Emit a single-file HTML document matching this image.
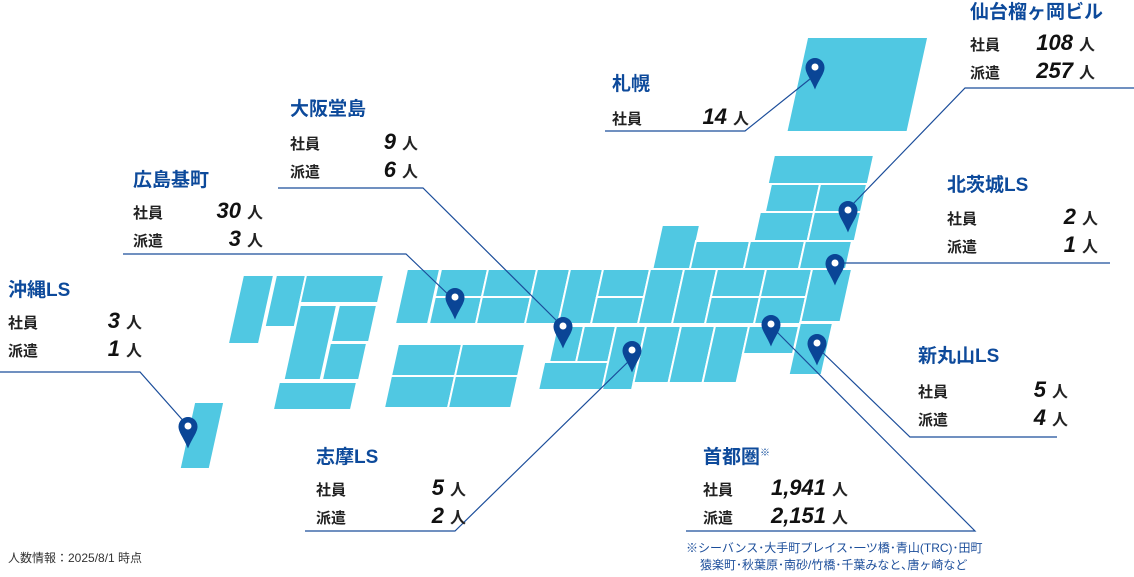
<!DOCTYPE html>
<html><head><meta charset="utf-8"><style>
html,body{margin:0;padding:0;background:#fff}
#c{position:relative;width:1134px;height:577px;overflow:hidden;font-family:"Liberation Sans","Noto Sans CJK JP",sans-serif}
.t{position:absolute;color:#0d4a9b;font-weight:bold;font-size:19px;line-height:20px;white-space:nowrap}
.r{position:absolute;font-size:15px;line-height:18px;font-weight:bold;color:#222;white-space:nowrap}
.r .n{display:inline-block;text-align:right;font-style:italic;font-size:22px;font-weight:bold;color:#111}
.r .p{font-size:16px;margin-left:6px}
svg{position:absolute;left:0;top:0}
.note{position:absolute;font-size:12px;line-height:18px;color:#1b4d9a;white-space:nowrap}
</style></head><body><div id="c">
<svg width="1134" height="577">
<g transform="skewX(-12.4)" fill="#50c8e2" stroke="#fff" stroke-width="2">
<!-- Hokkaido -->
<rect x="816.4" y="38" width="119" height="93" stroke="none"/>
<!-- Kyushu -->
<rect x="303.5" y="275" width="31" height="69"/>
<rect x="336.5" y="275" width="30" height="52"/>
<rect x="366.5" y="275" width="78" height="28"/>
<rect x="367.1" y="305" width="37" height="75"/>
<rect x="406.1" y="305" width="38" height="37"/>
<rect x="405.5" y="343" width="37" height="37"/>
<rect x="363" y="382" width="78" height="28"/>
<!-- Shikoku -->
<rect x="473.7" y="344" width="64" height="32"/>
<rect x="537.7" y="344" width="63" height="32"/>
<rect x="473.7" y="376" width="64" height="32"/>
<rect x="537.7" y="376" width="63" height="32"/>
<!-- Honshu band -->
<rect x="466.2" y="269" width="33" height="55"/>
<rect x="500.2" y="269" width="47" height="28"/>
<rect x="500.2" y="297" width="47" height="27"/>
<rect x="547.2" y="269" width="49" height="28"/>
<rect x="547.2" y="297" width="49" height="27"/>
<rect x="596.2" y="269" width="33" height="55"/>
<rect x="629.2" y="269" width="33" height="55"/>
<rect x="662.2" y="269" width="47" height="28"/>
<rect x="662.2" y="297" width="47" height="27"/>
<rect x="709.2" y="269" width="34" height="55"/>
<rect x="743.2" y="269" width="33" height="55"/>
<rect x="776.2" y="269" width="49" height="28"/>
<rect x="776.2" y="297" width="49" height="27"/>
<rect x="825.2" y="269" width="46" height="28"/>
<rect x="825.2" y="297" width="46" height="27"/>
<rect x="871.2" y="269" width="40" height="53"/>
<!-- Hokuriku -->
<rect x="711.5" y="225" width="38" height="44"/>
<!-- Tohoku -->
<rect x="749" y="241" width="54" height="28"/>
<rect x="803" y="241" width="55" height="28"/>
<rect x="858" y="241" width="47" height="28"/>
<rect x="806.6" y="212" width="54" height="29"/>
<rect x="860.6" y="212" width="47" height="29"/>
<rect x="811.5" y="184" width="49" height="28"/>
<rect x="860.5" y="184" width="47" height="28"/>
<rect x="808.1" y="155" width="100" height="29"/>
<!-- Chiba -->
<rect x="871" y="323" width="33" height="52"/>
<!-- south row -->
<rect x="628.7" y="326" width="27" height="36"/>
<rect x="655.7" y="326" width="32" height="36"/>
<rect x="623.9" y="362" width="64" height="28"/>
<rect x="687.7" y="326" width="30" height="64"/>
<rect x="717.7" y="326" width="35" height="57"/>
<rect x="752.7" y="326" width="34" height="57"/>
<rect x="786.7" y="326" width="34" height="57"/>
<rect x="820.7" y="326" width="50" height="28"/>
<!-- Okinawa -->
<rect x="283.7" y="403" width="28" height="65" stroke="none"/>
</g>
<g fill="none" stroke="#1b4d9a" stroke-width="1.2">
<polyline points="605,131 745,131 815,75"/>
<polyline points="1134,88 965,88 852,205"/>
<polyline points="840,263 1110,263"/>
<polyline points="820,350 910,437 1057,437"/>
<polyline points="775,330 975,531 686,531"/>
<polyline points="305,531 455,531 632,358"/>
<polyline points="278,188 423,188 562,326"/>
<polyline points="123,254 406,254 454,300"/>
<polyline points="0,372 140,372 187,425"/>
</g>
<g fill="#0a4596">
<g transform="translate(815,68)"><path d="M0,-10 a9.5,9.5 0 0 1 9.5,9.5 c0,6 -5,11 -9.5,22 c-4.5,-11 -9.5,-16 -9.5,-22 a9.5,9.5 0 0 1 9.5,-9.5z"/><circle r="3.5" cy="-1" fill="#fff"/></g>
<g transform="translate(848,211)"><path d="M0,-10 a9.5,9.5 0 0 1 9.5,9.5 c0,6 -5,11 -9.5,22 c-4.5,-11 -9.5,-16 -9.5,-22 a9.5,9.5 0 0 1 9.5,-9.5z"/><circle r="3.5" cy="-1" fill="#fff"/></g>
<g transform="translate(835,264)"><path d="M0,-10 a9.5,9.5 0 0 1 9.5,9.5 c0,6 -5,11 -9.5,22 c-4.5,-11 -9.5,-16 -9.5,-22 a9.5,9.5 0 0 1 9.5,-9.5z"/><circle r="3.5" cy="-1" fill="#fff"/></g>
<g transform="translate(455,298)"><path d="M0,-10 a9.5,9.5 0 0 1 9.5,9.5 c0,6 -5,11 -9.5,22 c-4.5,-11 -9.5,-16 -9.5,-22 a9.5,9.5 0 0 1 9.5,-9.5z"/><circle r="3.5" cy="-1" fill="#fff"/></g>
<g transform="translate(563,327)"><path d="M0,-10 a9.5,9.5 0 0 1 9.5,9.5 c0,6 -5,11 -9.5,22 c-4.5,-11 -9.5,-16 -9.5,-22 a9.5,9.5 0 0 1 9.5,-9.5z"/><circle r="3.5" cy="-1" fill="#fff"/></g>
<g transform="translate(632,351)"><path d="M0,-10 a9.5,9.5 0 0 1 9.5,9.5 c0,6 -5,11 -9.5,22 c-4.5,-11 -9.5,-16 -9.5,-22 a9.5,9.5 0 0 1 9.5,-9.5z"/><circle r="3.5" cy="-1" fill="#fff"/></g>
<g transform="translate(771,325)"><path d="M0,-10 a9.5,9.5 0 0 1 9.5,9.5 c0,6 -5,11 -9.5,22 c-4.5,-11 -9.5,-16 -9.5,-22 a9.5,9.5 0 0 1 9.5,-9.5z"/><circle r="3.5" cy="-1" fill="#fff"/></g>
<g transform="translate(817,344)"><path d="M0,-10 a9.5,9.5 0 0 1 9.5,9.5 c0,6 -5,11 -9.5,22 c-4.5,-11 -9.5,-16 -9.5,-22 a9.5,9.5 0 0 1 9.5,-9.5z"/><circle r="3.5" cy="-1" fill="#fff"/></g>
<g transform="translate(188,427)"><path d="M0,-10 a9.5,9.5 0 0 1 9.5,9.5 c0,6 -5,11 -9.5,22 c-4.5,-11 -9.5,-16 -9.5,-22 a9.5,9.5 0 0 1 9.5,-9.5z"/><circle r="3.5" cy="-1" fill="#fff"/></g>
</g>
</svg>

<div class="t" style="left:612px;top:75px">札幌</div>
<div class="r" style="left:612px;top:108px">社員<span class="n" style="width:85px">14</span><span class="p">人</span></div>

<div class="t" style="left:970px;top:3px">仙台榴ヶ岡ビル</div>
<div class="r" style="left:970px;top:34px">社員<span class="n" style="width:73px">108</span><span class="p">人</span></div>
<div class="r" style="left:970px;top:62px">派遣<span class="n" style="width:73px">257</span><span class="p">人</span></div>

<div class="t" style="left:290px;top:100px">大阪堂島</div>
<div class="r" style="left:290px;top:133px">社員<span class="n" style="width:76px">9</span><span class="p">人</span></div>
<div class="r" style="left:290px;top:161px">派遣<span class="n" style="width:76px">6</span><span class="p">人</span></div>

<div class="t" style="left:133px;top:171px">広島基町</div>
<div class="r" style="left:133px;top:202px">社員<span class="n" style="width:78px">30</span><span class="p">人</span></div>
<div class="r" style="left:133px;top:230px">派遣<span class="n" style="width:78px">3</span><span class="p">人</span></div>

<div class="t" style="left:947px;top:176px">北茨城LS</div>
<div class="r" style="left:947px;top:208px">社員<span class="n" style="width:99px">2</span><span class="p">人</span></div>
<div class="r" style="left:947px;top:236px">派遣<span class="n" style="width:99px">1</span><span class="p">人</span></div>

<div class="t" style="left:8px;top:281px">沖縄LS</div>
<div class="r" style="left:8px;top:312px">社員<span class="n" style="width:82px">3</span><span class="p">人</span></div>
<div class="r" style="left:8px;top:340px">派遣<span class="n" style="width:82px">1</span><span class="p">人</span></div>

<div class="t" style="left:918px;top:347px">新丸山LS</div>
<div class="r" style="left:918px;top:381px">社員<span class="n" style="width:98px">5</span><span class="p">人</span></div>
<div class="r" style="left:918px;top:409px">派遣<span class="n" style="width:98px">4</span><span class="p">人</span></div>

<div class="t" style="left:316px;top:448px">志摩LS</div>
<div class="r" style="left:316px;top:479px">社員<span class="n" style="width:98px">5</span><span class="p">人</span></div>
<div class="r" style="left:316px;top:507px">派遣<span class="n" style="width:98px">2</span><span class="p">人</span></div>

<div class="t" style="left:703px;top:448px">首都圏<span style="font-size:10px;vertical-align:top;position:relative;top:-4px">※</span></div>
<div class="r" style="left:703px;top:479px">社員<span class="n" style="width:93px">1,941</span><span class="p">人</span></div>
<div class="r" style="left:703px;top:507px">派遣<span class="n" style="width:93px">2,151</span><span class="p">人</span></div>

<div class="note" style="left:686px;top:539px">※シーバンス･大手町プレイス･一ツ橋･青山(TRC)･田町</div>
<div class="note" style="left:700px;top:556px">猿楽町･秋葉原･南砂/竹橋･千葉みなと､唐ヶ崎など</div>
<div class="note" style="left:8px;top:549px;color:#333">人数情報：2025/8/1 時点</div>
</div></body></html>
